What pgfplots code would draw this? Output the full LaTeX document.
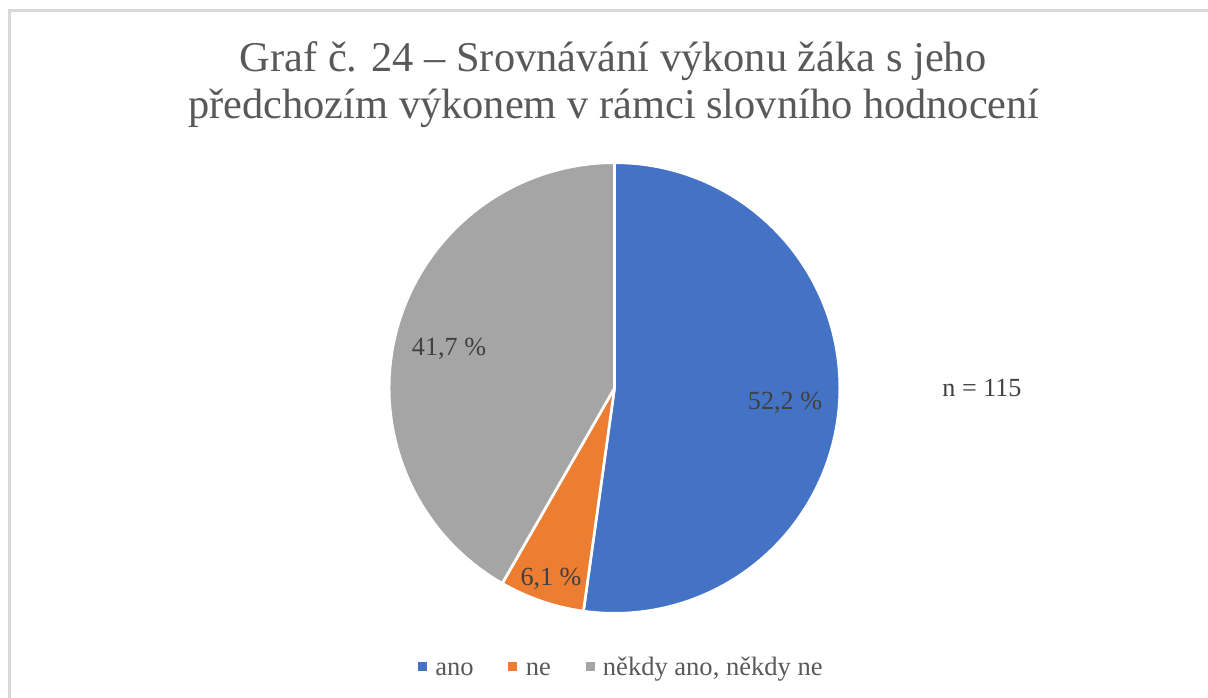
\documentclass[border=0pt]{standalone}
\usepackage{fontspec}
\setmainfont{Liberation Serif}
\usepackage{pgfplots}
\usepackage{pgfplotstable}
\pgfplotsset{compat=1.18}
\definecolor{cAno}{HTML}{4472C4}
\definecolor{cNe}{HTML}{ED7D31}
\definecolor{cNekdy}{HTML}{A5A5A5}
\definecolor{titlegray}{HTML}{595959}
\definecolor{labgray}{HTML}{404040}
\definecolor{framegray}{HTML}{D9D9D9}

\pgfplotstableread{
pct
52.2
6.1
41.7
}\piedata

\begin{document}
\begin{tikzpicture}
\pgfplotstablegetelem{0}{pct}\of\piedata \pgfmathsetmacro\pA{\pgfplotsretval}
\pgfplotstablegetelem{1}{pct}\of\piedata \pgfmathsetmacro\pB{\pgfplotsretval}
\pgfplotstablegetelem{2}{pct}\of\piedata \pgfmathsetmacro\pC{\pgfplotsretval}
\pgfmathsetmacro\aA{90-3.6*\pA}
\pgfmathsetmacro\aB{\aA-3.6*\pB}
\pgfmathsetmacro\aC{\aB-3.6*\pC}
\begin{axis}[name=ax, at={(0,0)}, anchor=south west,
  width=906pt, height=522.75pt, scale only axis,
  xmin=0, xmax=1208, ymin=0, ymax=697, y dir=reverse,
  hide axis, clip=false]
\fill[white] (axis cs:0,0) rectangle (axis cs:1208,697);
\draw[framegray, line width=2pt] (axis cs:9.7,10.7) rectangle (axis cs:1220,710);
% pie slices
\fill[cAno, draw=white, line width=2pt, line join=round]
  (axis cs:614.5,388) -- ++(90:169pt) arc[start angle=90, end angle=\aA, radius=169pt] -- cycle;
\fill[cNe, draw=white, line width=2pt, line join=round]
  (axis cs:614.5,388) -- ++(\aA:169pt) arc[start angle=\aA, end angle=\aB, radius=169pt] -- cycle;
\fill[cNekdy, draw=white, line width=2pt, line join=round]
  (axis cs:614.5,388) -- ++(\aB:169pt) arc[start angle=\aB, end angle=\aC, radius=169pt] -- cycle;
% title
\node[anchor=base, text=titlegray, font=\fontsize{31.8}{36}\selectfont, inner sep=0pt]
  at (axis cs:613,71) {Graf č. 24 – Srovnávání výkonu žáka s jeho};
\node[anchor=base, text=titlegray, font=\fontsize{31.8}{36}\selectfont, inner sep=0pt]
  at (axis cs:614,118) {předchozím výkonem v rámci slovního hodnocení};
% data labels
\node[anchor=base, text=labgray, font=\fontsize{19.6}{23}\selectfont, inner sep=0pt]
  at (axis cs:785,409) {52,2 \%};
\node[anchor=base, text=labgray, font=\fontsize{19.6}{23}\selectfont, inner sep=0pt]
  at (axis cs:551,585) {6,1 \%};
\node[anchor=base, text=labgray, font=\fontsize{19.6}{23}\selectfont, inner sep=0pt]
  at (axis cs:449,355) {41,7 \%};
\node[anchor=base, text=labgray, font=\fontsize{19.6}{23}\selectfont, inner sep=0pt]
  at (axis cs:982,396) {n = 115};
% legend
\fill[cAno] (axis cs:418,662) rectangle (axis cs:427,671);
\fill[cNe] (axis cs:508,662) rectangle (axis cs:517,671);
\fill[cNekdy] (axis cs:586,662) rectangle (axis cs:595,671);
\node[anchor=base west, text=titlegray, font=\fontsize{19.9}{23}\selectfont, inner sep=0pt]
  at (axis cs:435,675) {ano};
\node[anchor=base west, text=titlegray, font=\fontsize{19.9}{23}\selectfont, inner sep=0pt]
  at (axis cs:525.7,675) {ne};
\node[anchor=base west, text=titlegray, font=\fontsize{19.9}{23}\selectfont, inner sep=0pt]
  at (axis cs:602.7,675) {někdy ano, někdy ne};
\end{axis}
\pgfresetboundingbox
\path[use as bounding box] (ax.south west) rectangle (ax.north east);
\end{tikzpicture}
\end{document}
